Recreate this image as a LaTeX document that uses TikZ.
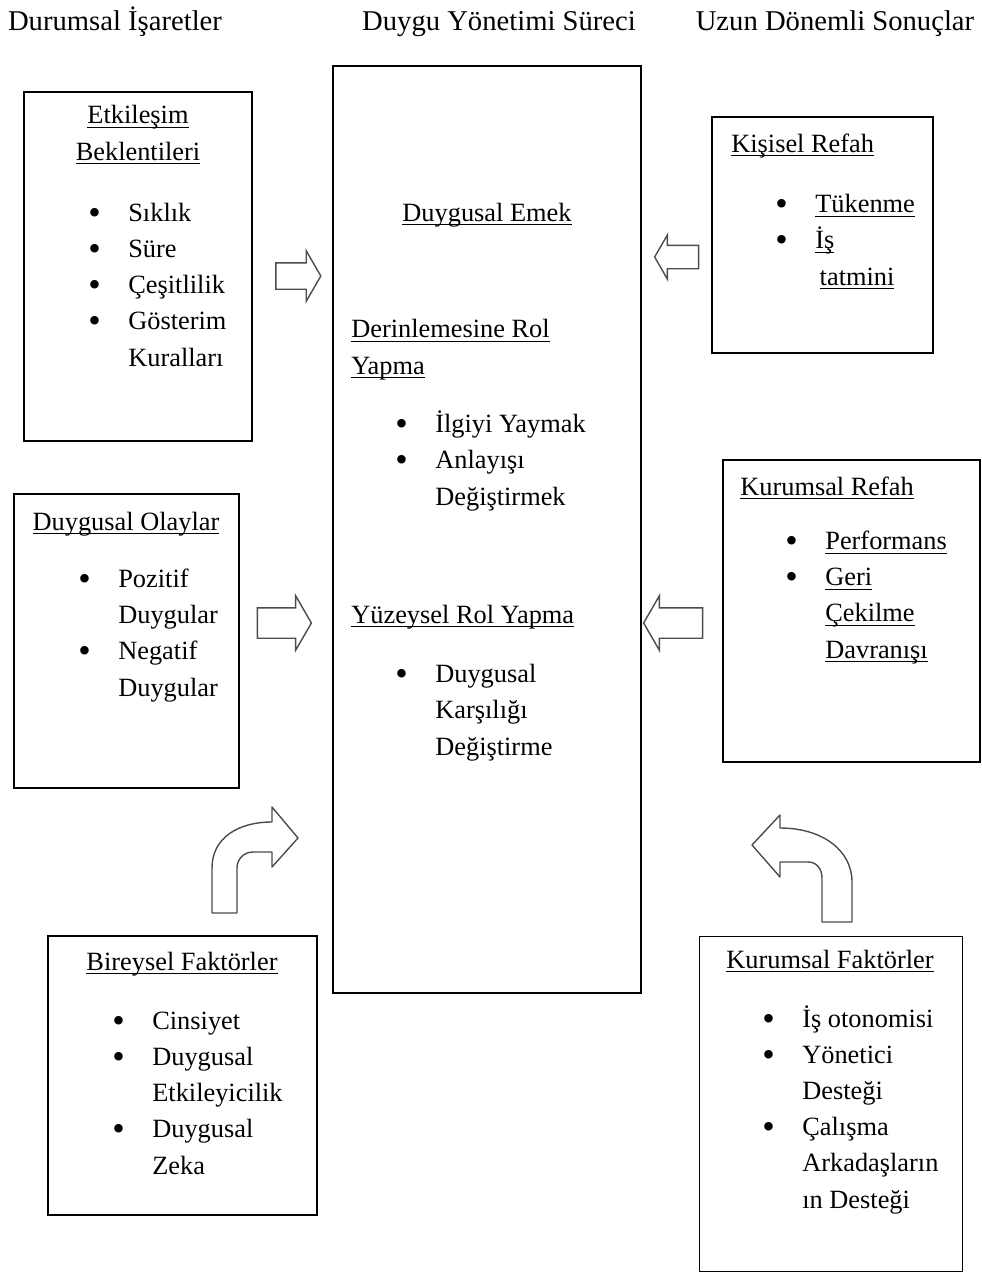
\documentclass[tikz,border=0pt]{standalone}
\usepackage{fontspec}
\setmainfont{Liberation Serif}
\usetikzlibrary{shapes.arrows}
\newcommand{\ulin}[1]{\setbox0\hbox{#1}\rlap{\rule[-2.3pt]{\wd0}{0.8pt}}\box0}
\newcommand{\blt}{\makebox[0.8cm][l]{\raisebox{-1.6pt}{\scalebox{1.35}{\textbullet}}}}
\newcommand{\cnt}{\hspace*{0.8cm}}
\tikzset{
	box/.style={draw, line width=0.9pt, inner sep=0pt},
	txt/.style={anchor=base west, inner sep=0pt, align=left, font=\fontsize{15}{20.5}\selectfont},
	ctxt/.style={anchor=base, inner sep=0pt, align=center, font=\fontsize{15}{20.5}\selectfont},
	hdr/.style={anchor=base, inner sep=0pt, font=\fontsize{16.3}{20}\selectfont},
	blockarrow/.style={single arrow, draw=black!70, line width=0.8pt, inner xsep=0pt, single arrow tip angle=120},
	bentarrow/.style={draw=black!70, line width=0.8pt, line join=round}
}
\begin{document}
\begin{tikzpicture}[x=0.02cm, y=-0.02cm]
	\useasboundingbox (0,0) rectangle (981,1275);
	\node[hdr] (h1) at (115,30) {Durumsal İşaretler};
	\node[hdr] (h2) at (499,30) {Duygu Yönetimi Süreci};
	\node[hdr] (h3) at (835,30) {Uzun Dönemli Sonuçlar};

	\node[box, minimum width=4.56cm, minimum height=6.98cm] (etk) at (138,266.5) {};
	\node[box, minimum width=6.16cm, minimum height=18.54cm] (emek) at (487,529.5) {};
	\node[box, minimum width=4.5cm, minimum height=5.88cm] (olay) at (126.5,641) {};
	\node[box, minimum width=5.38cm, minimum height=5.58cm] (birey) at (182.5,1075.5) {};
	\node[box, minimum width=4.42cm, minimum height=4.72cm] (kisi) at (822.5,235) {};
	\node[box, minimum width=5.14cm, minimum height=6.04cm] (refah) at (851.5,611) {};
	\node[box, minimum width=5.26cm, minimum height=6.7cm] (faktor) at (831,1104) {};

	\node[ctxt] (etkbas) at (138,160) {\ulin{Etkileşim}\\\ulin{Beklentileri}};
	\node[txt] (etkli) at (88,366) {\blt Sıklık\\\blt Süre\\\blt Çeşitlilik\\\blt Gösterim\\\cnt Kuralları};

	\node[ctxt] (emekbas) at (487,221) {\ulin{Duygusal Emek}};
	\node[txt] (derin) at (351,374) {\ulin{Derinlemesine Rol}\\\ulin{Yapma}};
	\node[txt] (derinli) at (395,505) {\blt İlgiyi Yaymak\\\blt Anlayışı\\\cnt Değiştirmek};
	\node[txt] (yuzey) at (351,623) {\ulin{Yüzeysel Rol Yapma}};
	\node[txt] (yuzeyli) at (395,755) {\blt Duygusal\\\cnt Karşılığı\\\cnt Değiştirme};

	\node[ctxt] (olaybas) at (126,530) {\ulin{Duygusal Olaylar}};
	\node[txt] (olayli) at (78,696) {\blt Pozitif\\\cnt Duygular\\\blt Negatif\\\cnt Duygular};

	\node[ctxt] (bireybas) at (182,970) {\ulin{Bireysel Faktörler}};
	\node[txt] (bireyli) at (112,1174) {\blt Cinsiyet\\\blt Duygusal\\\cnt Etkileyicilik\\\blt Duygusal\\\cnt Zeka};

	\node[txt] (kisibas) at (731,152) {\ulin{Kişisel Refah}};
	\node[txt] (kisili) at (775,285) {\blt \ulin{Tükenme}\\\blt \ulin{İş}\\\cnt \,\ulin{tatmini}};

	\node[txt] (refahbas) at (740,495) {\ulin{Kurumsal Refah}};
	\node[txt] (refahli) at (785,658) {\blt \ulin{Performans}\\\blt \ulin{Geri}\\\cnt \ulin{Çekilme}\\\cnt \ulin{Davranışı}};

	\node[ctxt] (faktorbas) at (830,968) {\ulin{Kurumsal Faktörler}};
	\node[txt] (faktorli) at (762,1208) {\blt İş otonomisi\\\blt Yönetici\\\cnt Desteği\\\blt Çalışma\\\cnt Arkadaşların\\\cnt ın Desteği};

	\node[blockarrow, minimum height=0.9cm, inner ysep=0.25cm, single arrow head extend=0.24cm] (ok1) at (294.5,276) {};
	\node[blockarrow, minimum height=1.08cm, inner ysep=0.29cm, single arrow head extend=0.24cm] (ok2) at (280,623) {};
	\node[blockarrow, shape border rotate=180, minimum height=0.88cm, inner ysep=0.22cm, single arrow head extend=0.21cm] (ok3) at (680,257) {};
	\node[blockarrow, shape border rotate=180, minimum height=1.18cm, inner ysep=0.29cm, single arrow head extend=0.24cm] (ok4) at (677.5,623) {};

	\draw[bentarrow] (212,913) -- (212,868) .. controls (212,838) and (238,822) .. (272,822) -- (272,807) -- (298,838) -- (272,867) -- (272,852) -- (253,852) .. controls (244,852) and (237,859) .. (237,868) -- (237,913) -- cycle;
	\draw[bentarrow] (852,922) -- (852,882) .. controls (852,850) and (822,828) .. (780,828) -- (780,815) -- (752,845) -- (780,877) -- (780,862) -- (808,862) .. controls (816,862) and (822,868) .. (822,878) -- (822,922) -- cycle;
\end{tikzpicture}
\end{document}
